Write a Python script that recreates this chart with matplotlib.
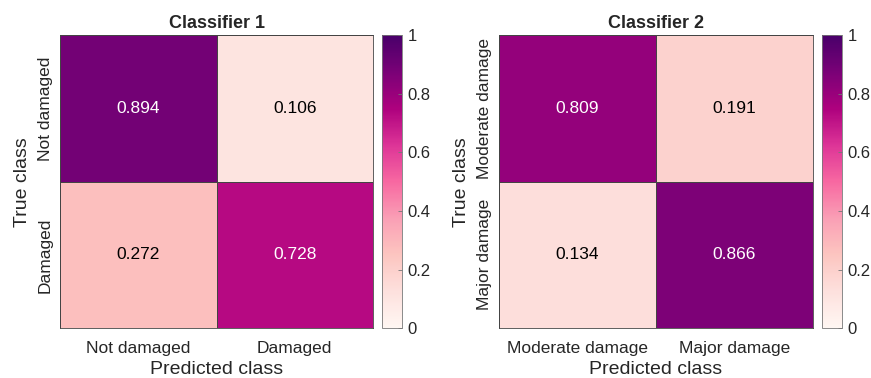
import numpy as np
import matplotlib
matplotlib.use("Agg")
import matplotlib.pyplot as plt

plt.rcParams['font.family'] = ['Liberation Sans', 'DejaVu Sans']

titles = ["Classifier 1", "Classifier 2"]
labels1 = ["Not damaged", "Damaged"]
labels2 = ["Moderate damage", "Major damage"]
cm1 = np.array([[0.894, 0.106],
                [0.272, 0.728]])
cm2 = np.array([[0.809, 0.191],
                [0.134, 0.866]])
cbar_ticks = [0, 0.2, 0.4, 0.6, 0.8, 1]
cbar_ticklabels = ["0", "0.2", "0.4", "0.6", "0.8", "1"]

fig = plt.figure(figsize=(8.71, 3.78), dpi=100)
edge = '#444444'

def draw(ax_pos, cb_pos, cm, labels, title):
    ax = fig.add_axes(ax_pos)
    cax = fig.add_axes(cb_pos)
    mesh = ax.pcolormesh(cm, cmap='RdPu', vmin=0, vmax=1,
                         edgecolors=edge, linewidth=0.6)
    ax.set_xlim(0, 2)
    ax.set_ylim(2, 0)
    for i in range(2):
        for j in range(2):
            v = cm[i, j]
            ax.text(j + 0.5, i + 0.5, "%.3f" % v, ha='center', va='center',
                    fontsize=12.5, color='white' if v > 0.5 else 'black')
    ax.set_xticks([0.5, 1.5])
    ax.set_xticklabels(labels, fontsize=12.5, color='#262626')
    ax.set_yticks([0.5, 1.5])
    ax.set_yticklabels(labels, fontsize=12.5, rotation=90, va='center',
                       color='#262626')
    ax.tick_params(axis='x', length=0, pad=9)
    ax.tick_params(axis='y', length=0, pad=5)
    for s in ax.spines.values():
        s.set_color(edge)
        s.set_linewidth(0.6)
    ax.set_xlabel("Predicted class", fontsize=14, labelpad=4, color='#262626')
    ax.set_ylabel("True class", fontsize=14, labelpad=5, color='#262626')
    ax.set_title(title, fontsize=13, fontweight='bold', pad=5, color='#262626')

    cb = fig.colorbar(mesh, cax=cax)
    cb.set_ticks(cbar_ticks)
    cb.set_ticklabels(cbar_ticklabels)
    cb.outline.set_edgecolor('#777777')
    cb.outline.set_linewidth(0.6)
    cax.tick_params(direction='in', length=3, width=0.6, color='#777777',
                    labelsize=12, labelcolor='#262626', pad=4)

draw([0.0689, 0.132, 0.3594, 0.775], [0.4386, 0.132, 0.023, 0.775],
     cm1, labels1, titles[0])
draw([0.5729, 0.132, 0.3605, 0.775], [0.9437, 0.132, 0.023, 0.775],
     cm2, labels2, titles[1])

fig.savefig("out.png", dpi=100)
